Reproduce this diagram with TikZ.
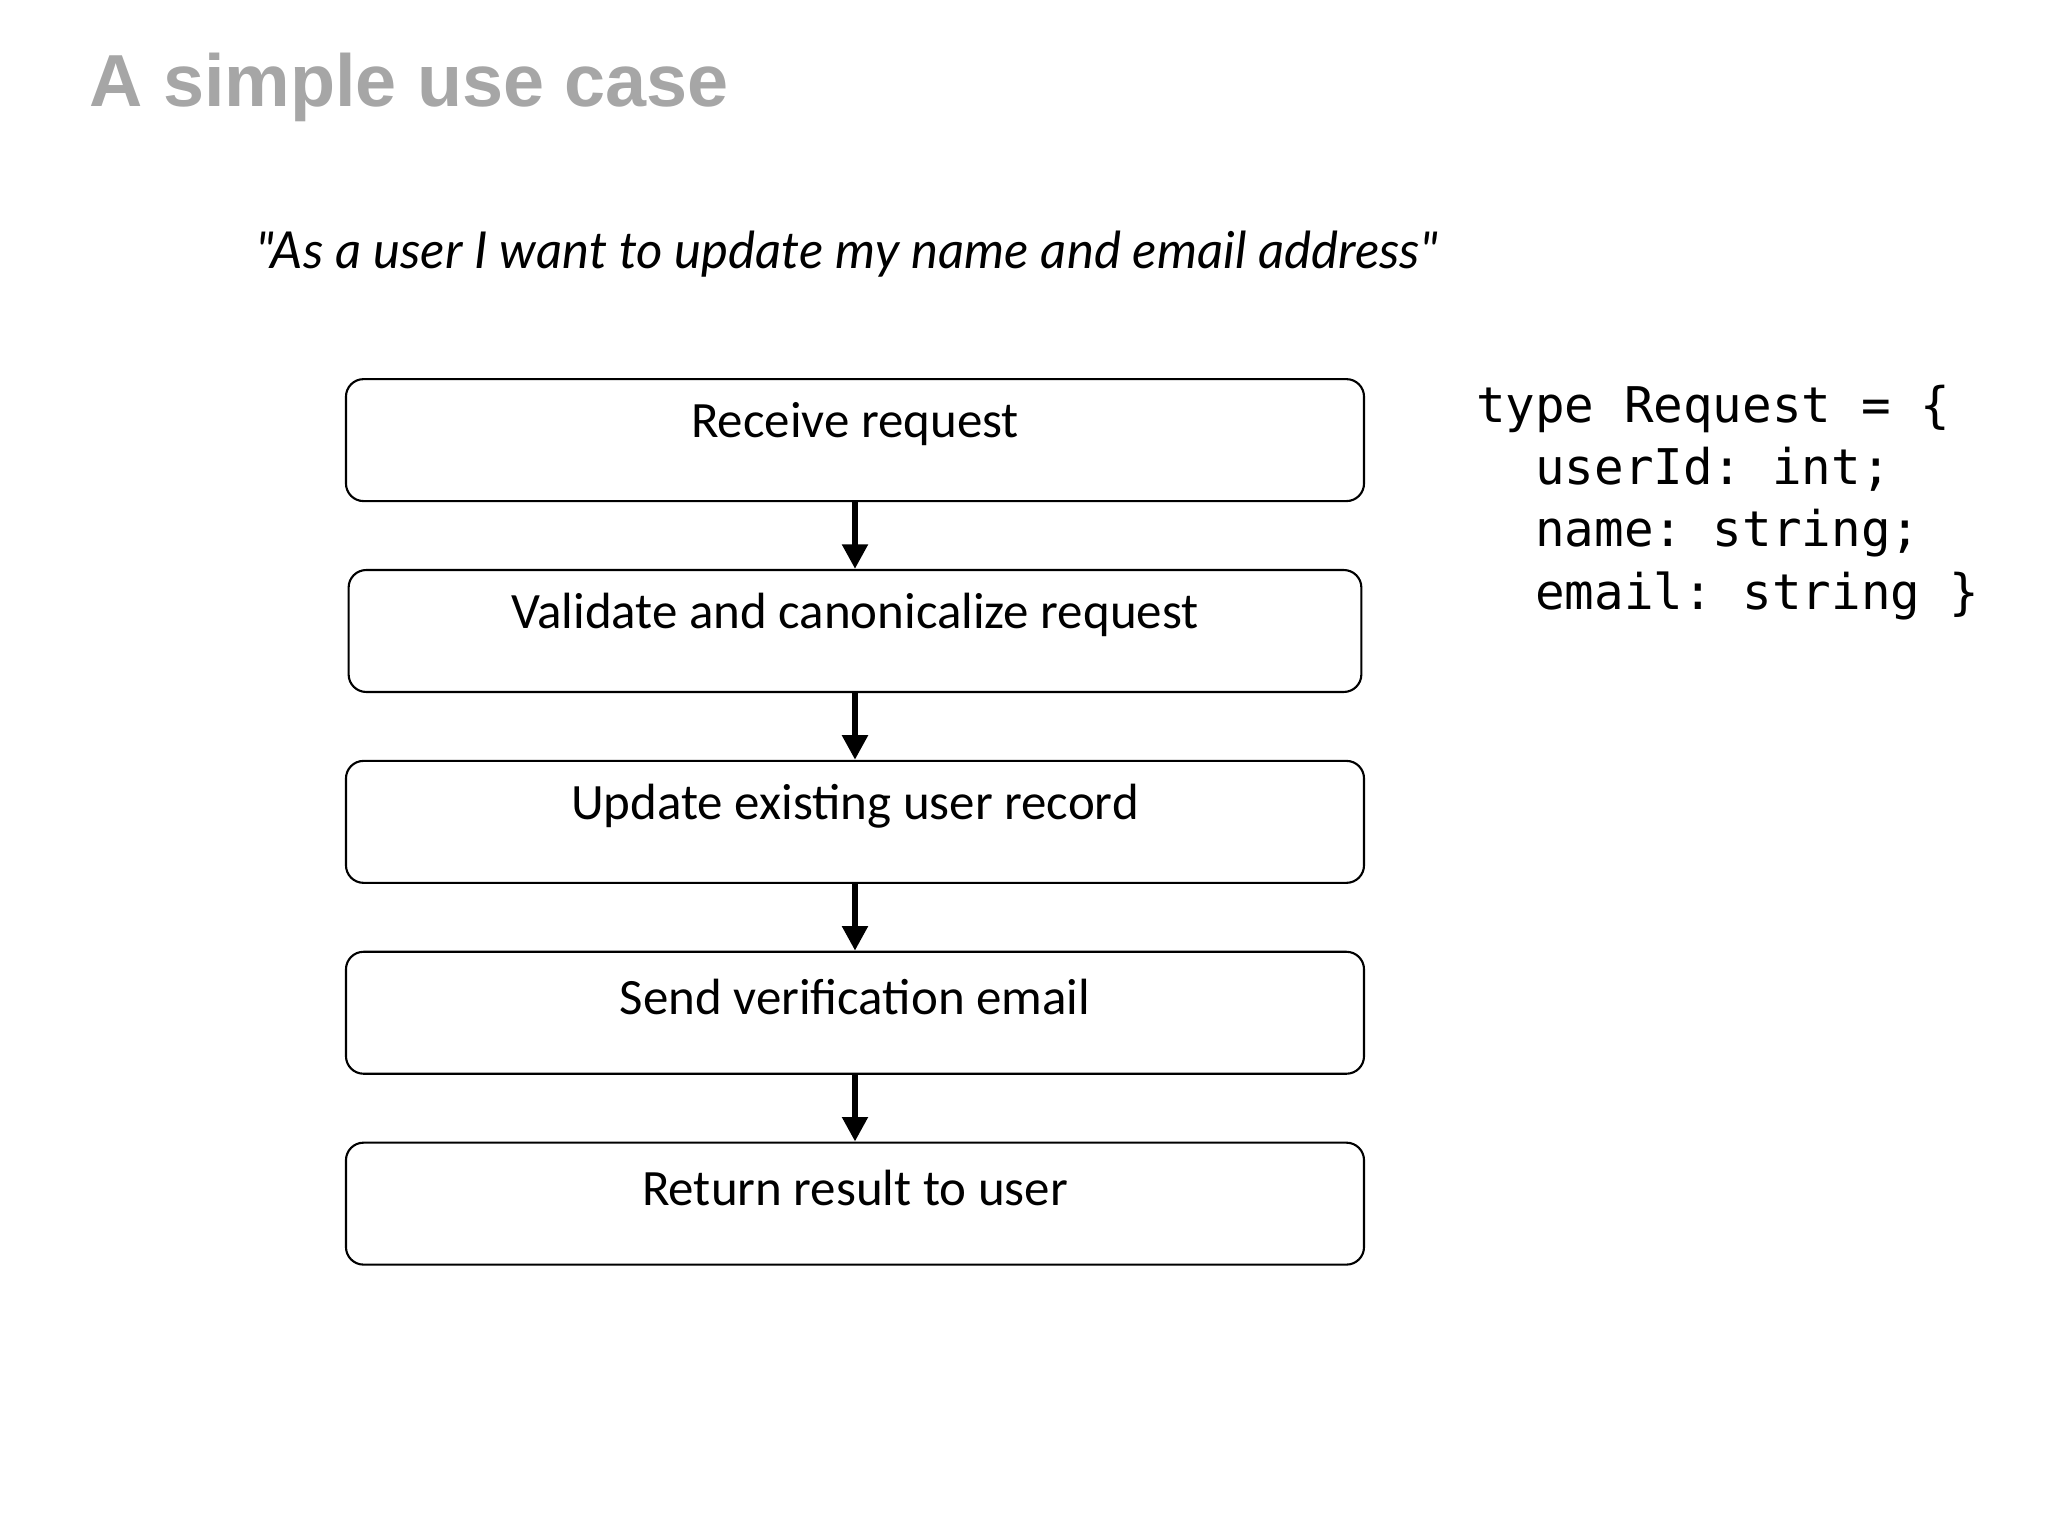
\documentclass[tikz,border=0pt]{standalone}
\usepackage{fontspec}
\setmainfont{Carlito}
\newfontfamily\titlefont{Liberation Sans}
\newfontfamily\quotefont{Lato}
\setmonofont{DejaVu Sans Mono}
\usetikzlibrary{arrows.meta}
\begin{document}
\begin{tikzpicture}[x=0.013256cm,y=-0.013256cm,
  stepbox/.style={draw,rounded corners=5pt,line width=0.6pt,minimum height=92*0.013256cm,inner sep=0pt,text depth=0pt,
     text height=5.1em,font=\fontsize{14.5}{17}\selectfont},
  flow/.style={line width=1.8pt,-{Triangle[length=7pt,width=7pt]}}]
\useasboundingbox (0,0) rectangle (1545,1159);
\node[anchor=west,text=black!35,font=\titlefont\bfseries\fontsize{21}{25}\selectfont] (title) at (58,66) {A simple use case};
\node[anchor=west,font=\quotefont\itshape\fontsize{14.5}{17}\selectfont] (quote) at (184,192) {"As a user I want to update my name and email address"};
\foreach \n/\y/\w/\t in {a/286/768/Receive request,b/430/764/Validate and canonicalize request,c/574/768/Update existing user record,d/718/768/Send verification email,e/862/768/Return result to user}{
  \node[draw,rounded corners=5pt,line width=0.6pt,minimum width=\w*0.013256cm,minimum height=92*0.013256cm] (\n) at (645,\y+46) {};
  \node[font=\fontsize{14.5}{17}\selectfont] (\n-t) at (645,\y+34) {\t};
}
\draw[flow] (a.south) -- (b.north);
\draw[flow] (b.south) -- (c.north);
\draw[flow] (c.south) -- (d.north);
\draw[flow] (d.south) -- (e.north);
\node[anchor=north west,font=\ttfamily\fontsize{14}{17.7}\selectfont,align=left,inner sep=0pt] (code) at (1113,290)
{type Request = \{\\
\ \ userId: int;\\
\ \ name: string;\\
\ \ email: string \}};
\end{tikzpicture}
\end{document}
